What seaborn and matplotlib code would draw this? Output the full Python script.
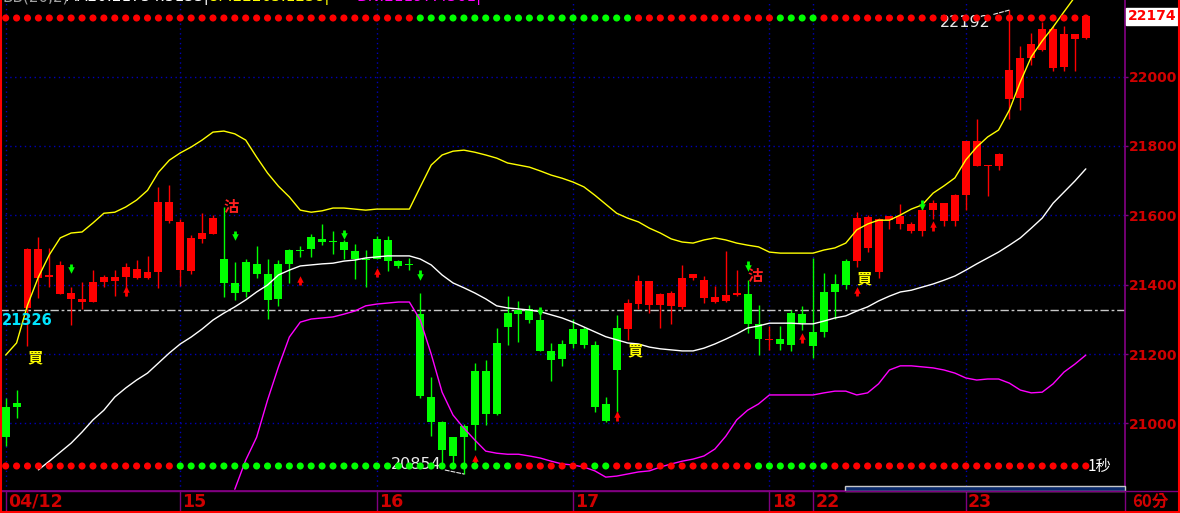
import numpy as np
import matplotlib
matplotlib.use("Agg")
import matplotlib.pyplot as plt
from matplotlib.lines import Line2D
from matplotlib.patches import Rectangle
import seaborn as sns

nan = np.nan

# 60-min bars, 04/12 .. 04/23
opens = [21047, 21060, 21334, 21420, 21423, 21374, 21358, 21351, 21350, 21408,
         21412, 21422, 21419, 21419, 21437, 21583, 21442, 21439, 21532, 21547,
         21474, 21404, 21465, 21460, 21431, 21460, 21500, 21500, 21537, 21532,
         21526, 21523, 21497, 21474, 21532, 21529, 21468, 21460, 21315, 21076,
         21004, 20960, 20992, 21151, 21151, 21232, 21318, 21327, 21330, 21298,
         21208, 21229, 21272, 21272, 21226, 21055, 21275, 21272, 21344, 21342,
         21342, 21339, 21336, 21420, 21361, 21350, 21353, 21371, 21373, 21287,
         21241, 21244, 21318, 21315, 21264, 21379, 21402, 21468, 21468, 21506,
         21437, 21586, 21575, 21554, 21554, 21615, 21583, 21583, 21658, 21742,
         21742, 21742, 21935, 21938, 22054, 22077, 22025, 22028, 22109, 22112]
highs = [21073, 21096, 21505, 21538, 21506, 21468, 21393, 21409, 21442, 21428,
         21442, 21463, 21471, 21483, 21682, 21688, 21589, 21543, 21606, 21601,
         21623, 21465, 21474, 21512, 21474, 21471, 21503, 21512, 21546, 21575,
         21555, 21530, 21517, 21500, 21540, 21540, 21471, 21477, 21376, 21134,
         21007, 20960, 20998, 21174, 21183, 21275, 21367, 21353, 21341, 21313,
         21232, 21240, 21300, 21279, 21238, 21077, 21313, 21359, 21428, 21411,
         21376, 21383, 21457, 21432, 21425, 21396, 21497, 21442, 21413, 21342,
         21281, 21281, 21327, 21339, 21477, 21434, 21431, 21474, 21609, 21601,
         21592, 21598, 21633, 21581, 21627, 21644, 21635, 21661, 21814, 21878,
         21745, 21780, 22192, 22088, 22126, 22157, 22146, 22146, 22123, 22178]
lows = [20935, 21016, 21224, 21362, 21394, 21372, 21284, 21329, 21350, 21394,
        21368, 21368, 21417, 21416, 21391, 21577, 21396, 21431, 21521, 21547,
        21364, 21356, 21365, 21418, 21302, 21339, 21405, 21480, 21479, 21514,
        21489, 21474, 21416, 21393, 21474, 21440, 21447, 21442, 21072, 20964,
        20880, 20880, 20854, 20923, 20995, 21024, 21226, 21235, 21290, 21208,
        21122, 21166, 21217, 21217, 21033, 21005, 21034, 21241, 21330, 21319,
        21276, 21287, 21330, 21413, 21347, 21347, 21350, 21367, 21260, 21197,
        21212, 21212, 21209, 21269, 21190, 21250, 21301, 21388, 21452, 21494,
        21419, 21561, 21561, 21549, 21540, 21590, 21569, 21569, 21615, 21742,
        21656, 21731, 21878, 21904, 22034, 22074, 22016, 22016, 22016, 22109]
closes = [20961, 21048, 21503, 21503, 21428, 21457, 21376, 21358, 21409, 21422,
          21422, 21451, 21445, 21437, 21639, 21639, 21581, 21535, 21550, 21592,
          21406, 21377, 21380, 21431, 21357, 21359, 21460, 21497, 21503, 21524,
          21522, 21500, 21474, 21470, 21474, 21468, 21454, 21457, 21079, 21005,
          20923, 20906, 20960, 20995, 21027, 21027, 21278, 21315, 21298, 21208,
          21182, 21186, 21229, 21226, 21047, 21008, 21154, 21347, 21411, 21411,
          21373, 21376, 21419, 21432, 21413, 21364, 21370, 21377, 21287, 21244,
          21243, 21229, 21226, 21289, 21224, 21264, 21380, 21399, 21592, 21595,
          21589, 21598, 21598, 21575, 21615, 21635, 21635, 21658, 21814, 21814,
          21745, 21777, 22019, 22054, 22094, 22138, 22138, 22123, 22123, 22174]

# Bollinger-style bands
upper = [21197, 21232, 21341, 21422, 21486, 21535, 21549, 21552, 21578, 21606,
         21609, 21624, 21644, 21672, 21724, 21759, 21780, 21797, 21817, 21840,
         21843, 21835, 21817, 21768, 21722, 21684, 21653, 21615, 21609, 21613,
         21621, 21621, 21618, 21615, 21618, 21618, 21618, 21618, 21682, 21745,
         21774, 21785, 21788, 21782, 21774, 21765, 21751, 21745, 21739, 21728,
         21716, 21707, 21696, 21682, 21658, 21632, 21606, 21592, 21581, 21563,
         21549, 21532, 21523, 21520, 21529, 21535, 21529, 21520, 21514, 21509,
         21494, 21491, 21491, 21491, 21491, 21500, 21506, 21520, 21558, 21575,
         21586, 21586, 21601, 21618, 21630, 21664, 21685, 21708, 21760, 21797,
         21826, 21846, 21904, 21985, 22057, 22103, 22143, 22187, 22230, 22265]
middle = [nan, nan, nan, 20866, 20891, 20917, 20943, 20975, 21010, 21038,
          21076, 21102, 21125, 21145, 21174, 21203, 21229, 21249, 21272, 21298,
          21318, 21336, 21356, 21379, 21399, 21428, 21442, 21454, 21457, 21460,
          21462, 21468, 21471, 21477, 21480, 21483, 21483, 21483, 21474, 21457,
          21428, 21405, 21391, 21376, 21359, 21339, 21333, 21330, 21327, 21322,
          21313, 21304, 21292, 21278, 21264, 21250, 21241, 21232, 21229, 21220,
          21215, 21212, 21209, 21209, 21217, 21229, 21243, 21258, 21275, 21281,
          21289, 21289, 21289, 21287, 21287, 21295, 21304, 21310, 21324, 21336,
          21353, 21367, 21379, 21384, 21393, 21402, 21413, 21425, 21442, 21460,
          21477, 21494, 21514, 21535, 21563, 21592, 21635, 21667, 21699, 21734]
lower = [nan] * 21 + [
          20810, 20894, 20960, 21067, 21163, 21249, 21292, 21301, 21304,
          21307, 21315, 21324, 21339, 21344, 21347, 21350, 21350, 21298, 21200,
          21090, 21024, 20986, 20952, 20920, 20914, 20911, 20911, 20906, 20900,
          20891, 20883, 20880, 20874, 20863, 20845, 20848, 20854, 20860, 20863,
          20874, 20883, 20891, 20897, 20906, 20926, 20963, 21010, 21038, 21056,
          21082, 21082, 21082, 21082, 21082, 21088, 21093, 21093, 21082, 21088,
          21114, 21154, 21166, 21166, 21163, 21160, 21154, 21145, 21131, 21125,
          21128, 21128, 21116, 21096, 21088, 21090, 21114, 21148, 21171, 21197]

day_starts = [0, 16, 34, 52, 70, 74, 88]
day_labels = ["04/12", "15", "16", "17", "18", "22", "23"]
price_ticks = [21000, 21200, 21400, 21600, 21800, 22000]
ref_price = 21326
last_price = 22174
period_high = (92, 22192)
period_low = (42, 20854)

# signal dot rows (r = red, g = green), one per bar
sig_top = ["r"] * 38 + ["g"] * 20 + ["r"] * 13 + ["g"] * 4 + ["r"] * 25
sig_bottom = (["r"] * 16 + ["g"] * 31 + ["r"] * 7 + ["g"] * 2 + ["r"] * 13
              + ["g"] * 7 + ["r"] * 24)

buy_marks = [(2, 21191), (57, 21212), (78, 21419)]
sell_marks = [(20, 21624), (68, 21425)]
down_arrows = [(6, 21448), (21, 21543), (31, 21546), (38, 21428),
               (49, 21324), (68, 21454), (84, 21630)]
up_arrows = [(11, 21381), (27, 21411), (34, 21434), (43, 20894),
             (56, 21021), (73, 21246), (78, 21379), (85, 21569)]

sns.set_theme(style="dark", rc={"axes.facecolor": "black", "figure.facecolor": "black"})
plt.rcParams["font.family"] = ["DejaVu Sans", "Noto Sans CJK TC"]
CJK = ["Noto Sans CJK TC", "DejaVu Sans"]
NARROW = ["Liberation Sans Narrow", "DejaVu Sans"]

RED, GREEN = "#FF0000", "#00FF00"
AXIS_RED = "#D00000"
PURPLE = "#800080"
GRID = "#0000B8"

W, H = 1180, 513
fig = plt.figure(figsize=(W / 100, H / 100), dpi=100, facecolor="black")
ax = fig.add_axes([0, 22 / H, 1125 / W, 491 / H])
ax.set_facecolor("black")
ylo, yhi = 20805, 22221
PX = (yhi - ylo) / 491.0   # price per pixel

idx = np.arange(len(opens))
o, h, l, c = map(np.array, (opens, highs, lows, closes))
cols = np.where(c >= o, RED, GREEN)

# grid
for p in price_ticks:
    ax.axhline(p, color=GRID, lw=1, ls=(0, (1, 2.5)), zorder=1)
for d in day_starts:
    ax.axvline(d, color=GRID, lw=1, ls=(0, (1, 2.5)), zorder=1)
ax.axhline(ref_price, color="#C8C8C8", lw=1, ls=(0, (6, 2, 2, 2)), zorder=2)

# candles
ax.vlines(idx, l, h, colors=cols, lw=1, zorder=3)
ax.bar(idx, np.maximum(np.abs(c - o), 3), bottom=np.minimum(o, c), width=0.73,
       color=cols, lw=0, zorder=3)

# bands
for vals, col in [(upper, "#FFFF00"), (middle, "white"), (lower, "#FF00FF")]:
    sns.lineplot(x=idx, y=vals, ax=ax, color=col, lw=1, estimator=None, zorder=4)

# arrows
for i, v in up_arrows:
    ax.vlines(i, v - 4.5 * PX, v + 0.5 * PX, colors=RED, lw=2, zorder=5)
    ax.scatter([i], [v + 2 * PX], marker="^", s=22, c=RED, lw=0, zorder=5)
for i, v in down_arrows:
    ax.vlines(i, v - 0.5 * PX, v + 4.5 * PX, colors=GREEN, lw=2, zorder=5)
    ax.scatter([i], [v - 2 * PX], marker="v", s=22, c=GREEN, lw=0, zorder=5)

for i, v in buy_marks:
    ax.text(i + 0.7, v, "買", color="#FFFF00", fontsize=11, fontweight="bold",
            family=CJK, ha="center", va="center", zorder=6)
for i, v in sell_marks:
    ax.text(i + 0.7, v, "沽", color="#FF2020", fontsize=11, fontweight="bold",
            family=CJK, ha="center", va="center", zorder=6)

# extreme annotations
ax.annotate(str(period_high[1]), xy=period_high, xytext=(-19, -12),
            textcoords="offset pixels", ha="right", va="center", color="#E8E8E8",
            fontsize=11.5, zorder=6,
            arrowprops=dict(arrowstyle="-", color="#E8E8E8", lw=0.8, ls="--",
                            shrinkA=0, shrinkB=0))
ax.annotate(str(period_low[1]), xy=period_low, xytext=(-22, 10),
            textcoords="offset pixels", ha="right", va="center", color="#E8E8E8",
            fontsize=11.5, zorder=6,
            arrowprops=dict(arrowstyle="-", color="#E8E8E8", lw=0.8, ls="--",
                            shrinkA=0, shrinkB=0))

# signal dot rows
tr = ax.get_xaxis_transform()
for row, yy in [(sig_top, 1 - 18 / 491), (sig_bottom, 1 - 466 / 491)]:
    ax.scatter(idx, np.full(len(idx), yy), c=[RED if s == "r" else GREEN for s in row],
               s=26, lw=0, transform=tr, zorder=7, clip_on=False)

ax.text(99.2, 1 - 466 / 491, "1秒", transform=tr, color="white", fontsize=11,
        family=CJK, ha="left", va="center", zorder=8)

yt = ax.get_yaxis_transform()
ax.text(0.002, ref_price - 10 * PX, str(ref_price), transform=yt, color="#00E5FF",
        fontsize=10.5, fontweight="bold", ha="left", va="center", zorder=8)
ax.text(1.0 + 3 / 1125, last_price, str(last_price), transform=yt, color=RED,
        fontsize=10, fontweight="bold", ha="left", va="center", zorder=10, clip_on=False,
        bbox=dict(boxstyle="square,pad=0.12", fc="white", ec="white"))

ax.set_xlim(-0.52, 102.59)
ax.set_ylim(ylo, yhi)
ax.set_xlabel("")
ax.set_ylabel("")
ax.set_xticks([])
ax.yaxis.tick_right()
ax.set_yticks(price_ticks)
ax.set_yticklabels([str(p) for p in price_ticks])
ax.tick_params(axis="y", colors=PURPLE, labelcolor=AXIS_RED, length=2, width=1,
               pad=1, labelsize=10, direction="out")
for t in ax.get_yticklabels():
    t.set_fontweight("bold")
ax.spines["top"].set_visible(False)
ax.spines["left"].set_color(RED)
ax.spines["left"].set_linewidth(1.5)
ax.spines["right"].set_color(PURPLE)
ax.spines["bottom"].set_color(PURPLE)

# date strip
strip = -22 / 491
ax.vlines(day_starts, strip, 0, transform=tr, colors=PURPLE, lw=1, clip_on=False)
for d, lab in zip(day_starts, day_labels):
    ax.text(d + 0.2, strip / 2, lab, transform=tr, color=AXIS_RED, fontsize=12.5,
            fontweight="bold", family=NARROW, ha="left", va="center")

fig.add_artist(Line2D([0, 1], [22 / H, 22 / H], color=PURPLE, lw=1))
fig.add_artist(Line2D([1125 / W] * 2, [0, 22 / H], color=PURPLE, lw=1))
fig.add_artist(Line2D([1178.5 / W] * 2, [0, 1], color=RED, lw=1.5))
fig.add_artist(Line2D([0.6 / W] * 2, [0, 1], color=RED, lw=1.5))
fig.add_artist(Line2D([0, 1], [0.6 / H] * 2, color=RED, lw=1.5))
fig.add_artist(Rectangle((845 / W, 22.5 / H), 280 / W, 5 / H, transform=fig.transFigure,
                         fc="#0A2A6A", ec="#C8C8C8", lw=1))
fig.text(1132 / W, 11 / H, "60分", color=AXIS_RED, fontsize=12, fontweight="bold",
         family=CJK, ha="left", va="center")

# header line (cut by the top edge)
for x0, txt, col in [(2, "BB(20,2)", "#A0A0A0"), (64, "MA20:21734.5133|", "white"),
                     (208, "UP:22265.1238|", "#FFFF00"), (356, "DN:21197.4361|", "#FF00FF")]:
    fig.text(x0 / W, 1 + 3 / H, txt, color=col, fontsize=11, ha="left", va="center")

fig.savefig("out.png", dpi=100, facecolor="black")
